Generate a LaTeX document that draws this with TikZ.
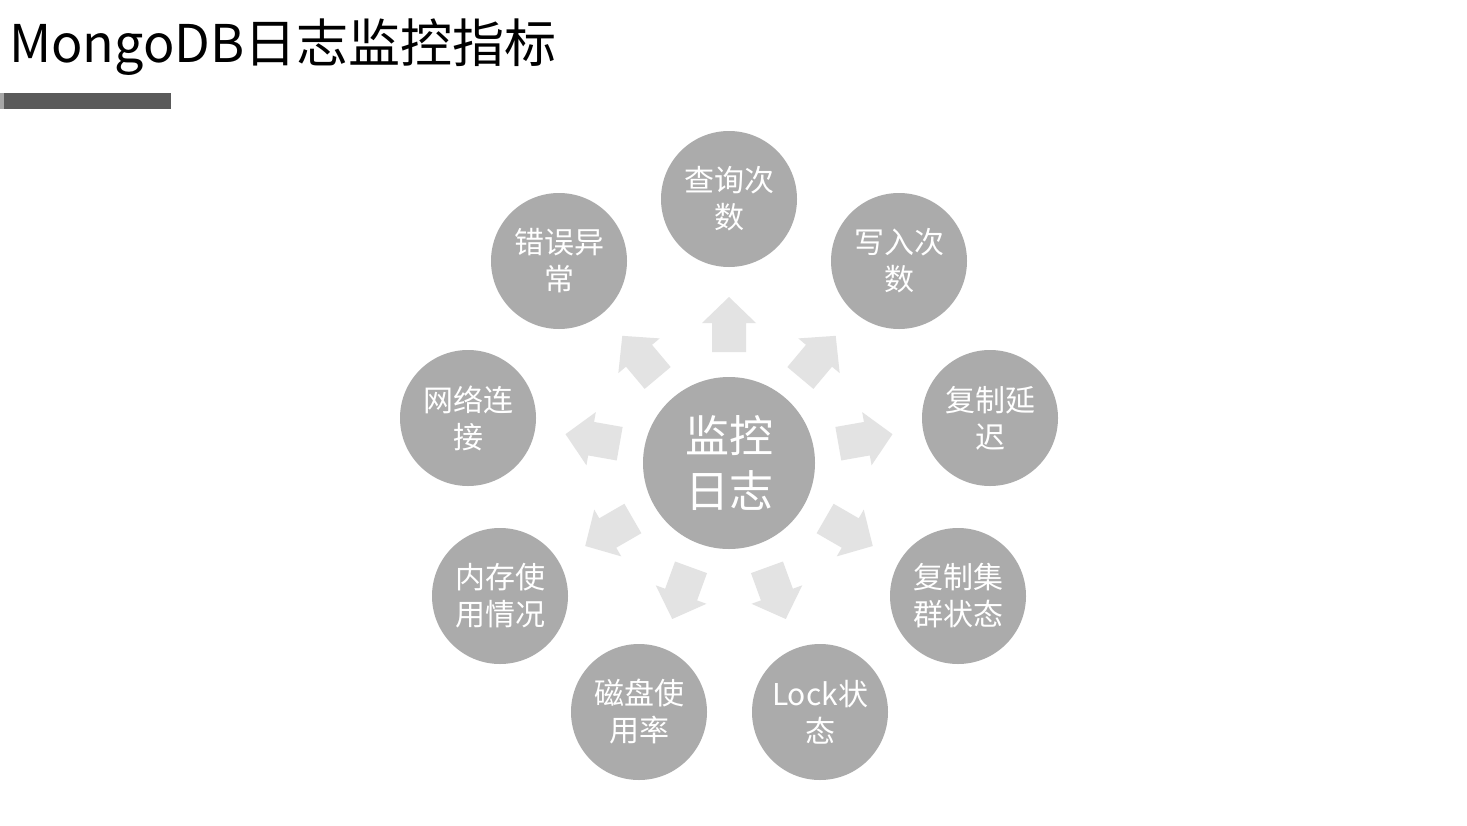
\documentclass[tikz,border=0pt]{standalone}
\usepackage{fontspec}
\setmainfont{Noto Sans CJK SC}
\usetikzlibrary{positioning}
\definecolor{circgray}{HTML}{ABABAB}
\definecolor{arrgray}{HTML}{E3E3E3}
\definecolor{bargray}{HTML}{5A5A5A}
\begin{document}
\begin{tikzpicture}[x=1pt,y=-1pt,
  outer/.style={circle,fill=circgray,minimum size=136pt,inner sep=0pt,text=white,align=center,
    font=\fontsize{30}{37}\selectfont},
  hub/.style={circle,fill=circgray,minimum size=172pt,inner sep=0pt,text=white,align=center,
    font=\fontsize{44}{55}\selectfont},
  blockarrow/.style={fill=arrgray,draw=none}]
\useasboundingbox[fill=white] (0,0) rectangle (1467,825);
% title
\node[anchor=west,inner sep=0pt,font=\fontsize{52}{58}\selectfont] (title) at (9,47) {MongoDB日志监控指标};
\fill[gray!70] (0,93) rectangle (4,109);
\fill[bargray] (4,93) rectangle (171,109);
% hub
\node[hub] (hub) at (729,463) {监控\\日志};
% arrows
\foreach \a in {90,50,10,-30,-70,-110,-150,170,130}{
  \begin{scope}[shift={(729,463)},rotate=\a]
    \fill[blockarrow] (111,-17) -- (140,-17) -- (140,-27) -- (166,0) -- (140,27) -- (140,17) -- (111,17) -- cycle;
  \end{scope}
}
% outer nodes
\node[outer] (q) at (729,199) {查询次\\数};
\node[outer] (w) at (899,261) {写入次\\数};
\node[outer] (rd) at (990,418) {复制延\\迟};
\node[outer] (rs) at (958,596) {复制集\\群状态};
\node[outer] (lk) at (820,712) {Lock状\\态};
\node[outer] (dk) at (639,712) {磁盘使\\用率};
\node[outer] (mem) at (500,596) {内存使\\用情况};
\node[outer] (net) at (468,418) {网络连\\接};
\node[outer] (err) at (559,261) {错误异\\常};
\end{tikzpicture}
\end{document}
